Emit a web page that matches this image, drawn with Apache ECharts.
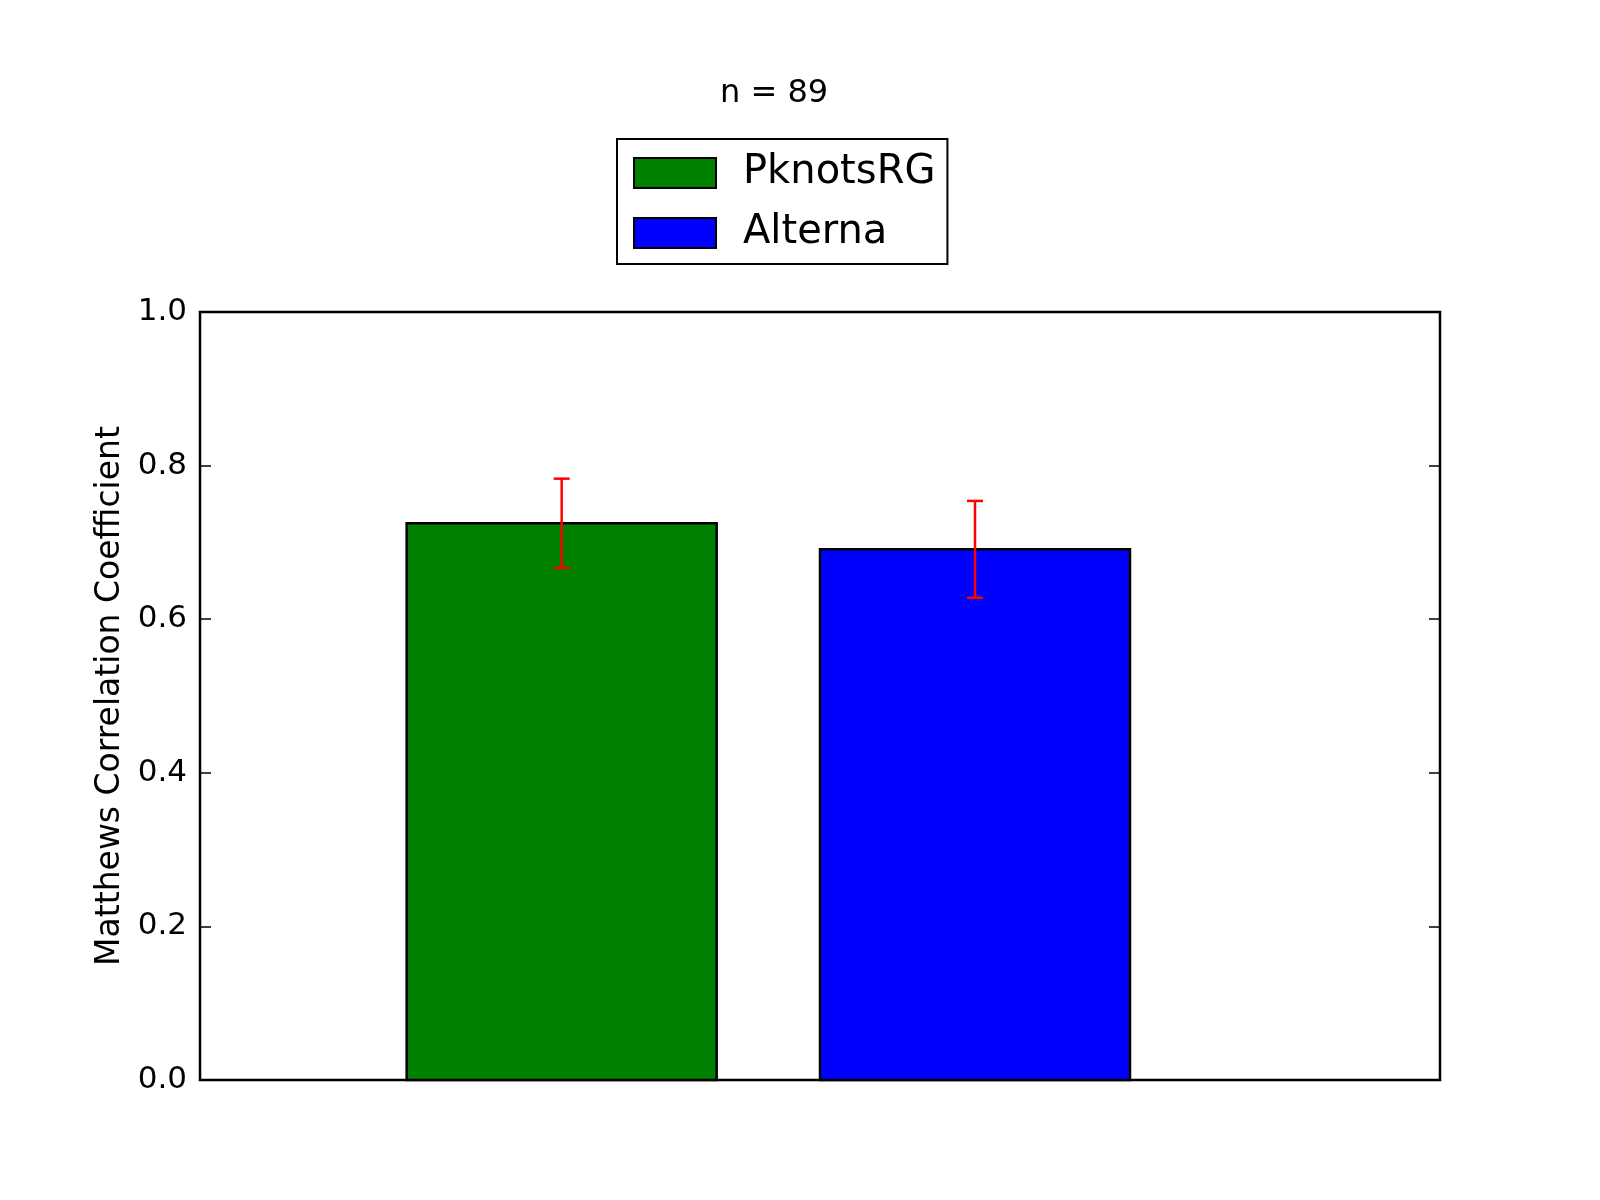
<!DOCTYPE html>
<html>
<head>
<meta charset="utf-8">
<style>
  html, body { margin: 0; padding: 0; background: #fff; }
  #chart { width: 1600px; height: 1200px; }
</style>
<script src="https://cdn.jsdelivr.net/npm/echarts@6/dist/echarts.min.js"></script>
</head>
<body>
<div id="chart"></div>
<script>
// ---- data ----
const categories = ['PknotsRG', 'Alterna'];
const barLeftEdges = [0, 1];          // bar left edges in data units (matplotlib align='edge')
const barWidthUnits = 0.75;            // bar width in data units
const values = [0.725, 0.691];         // Matthews Correlation Coefficient
const errors = [0.058, 0.063];         // error bar half-length
const colors = ['#008000', '#0000ff'];
const yTicks = [0.0, 0.2, 0.4, 0.6, 0.8, 1.0];
const titleText = 'n = 89';
const yLabel = 'Matthews Correlation Coefficient';

const FONT = 'DejaVu Sans';
const chart = echarts.init(document.getElementById('chart'), null, { renderer: 'canvas' });

function barSeries(i) {
  return {
    name: categories[i],
    type: 'custom',
    xAxisIndex: 0, yAxisIndex: 0,
    itemStyle: { color: colors[i] },
    data: [[barLeftEdges[i], values[i]]],
    renderItem: function (params, api) {
      const p0 = api.coord([api.value(0), 0]);
      const p1 = api.coord([api.value(0) + barWidthUnits, api.value(1)]);
      return {
        type: 'rect',
        shape: { x: p0[0], y: p1[1], width: p1[0] - p0[0], height: p0[1] - p1[1] },
        style: { fill: colors[i], stroke: '#000', lineWidth: 2.5 }
      };
    },
    z: 2
  };
}

const errData = categories.map((c, i) => [barLeftEdges[i] + barWidthUnits / 2, values[i] - errors[i], values[i] + errors[i]]);

const option = {
  backgroundColor: '#fff',
  animation: false,
  title: {
    text: titleText,
    left: 715, top: 73,
    textStyle: { fontFamily: FONT, fontSize: 32, fontWeight: 'normal', color: '#000' }
  },
  legend: {
    orient: 'vertical',
    left: 617, top: 139,
    padding: [14, 12, 11, 16],
    itemGap: 20,
    itemWidth: 82, itemHeight: 30,
    borderColor: '#000', borderWidth: 2, borderRadius: 0,
    backgroundColor: '#fff',
    selectedMode: false,
    textStyle: { fontFamily: FONT, fontSize: 40, color: '#000', padding: [14, 0, 0, 22] },
    data: categories.map((c, i) => ({
      name: c, icon: 'rect',
      itemStyle: { color: colors[i], borderColor: '#000', borderWidth: 2 }
    }))
  },
  grid: {
    left: 200, right: 160, top: 312, bottom: 120,
    show: true, borderColor: '#000', borderWidth: 2.5, backgroundColor: 'transparent'
  },
  xAxis: [{
    type: 'value', min: -0.5, max: 2.5,
    axisLine: { show: false }, axisTick: { show: false }, axisLabel: { show: false },
    splitLine: { show: false }
  }],
  yAxis: [{
    type: 'value', min: 0, max: 1, interval: 0.2, position: 'left',
    name: yLabel, nameLocation: 'middle', nameGap: 65,
    nameTextStyle: { fontFamily: FONT, fontSize: 33, color: '#000' },
    axisLine: { show: false, onZero: false },
    axisTick: { show: true, inside: true, length: 11, lineStyle: { color: '#000', width: 1.5 } },
    axisLabel: {
      margin: 13, fontFamily: FONT, fontSize: 31, color: '#000',
      formatter: v => v.toFixed(1)
    },
    splitLine: { show: false }
  }, {
    type: 'value', min: 0, max: 1, interval: 0.2, position: 'right',
    axisLine: { show: false, onZero: false },
    axisTick: { show: true, inside: true, length: 11, lineStyle: { color: '#000', width: 1.5 } },
    axisLabel: { show: false },
    splitLine: { show: false }
  }],
  series: [
    barSeries(0),
    barSeries(1),
    {
      name: 'errors',
      type: 'custom',
      xAxisIndex: 0, yAxisIndex: 0,
      data: errData,
      z: 3,
      renderItem: function (params, api) {
        const top = api.coord([api.value(0), api.value(2)]);
        const bot = api.coord([api.value(0), api.value(1)]);
        const cap = 8;
        const st = { stroke: '#ff0000', lineWidth: 2.5 };
        return {
          type: 'group',
          children: [
            { type: 'line', shape: { x1: top[0], y1: top[1], x2: bot[0], y2: bot[1] }, style: st },
            { type: 'line', shape: { x1: top[0] - cap, y1: top[1], x2: top[0] + cap, y2: top[1] }, style: st },
            { type: 'line', shape: { x1: bot[0] - cap, y1: bot[1], x2: bot[0] + cap, y2: bot[1] }, style: st }
          ]
        };
      }
    }
  ]
};
chart.setOption(option);
</script>
</body>
</html>
